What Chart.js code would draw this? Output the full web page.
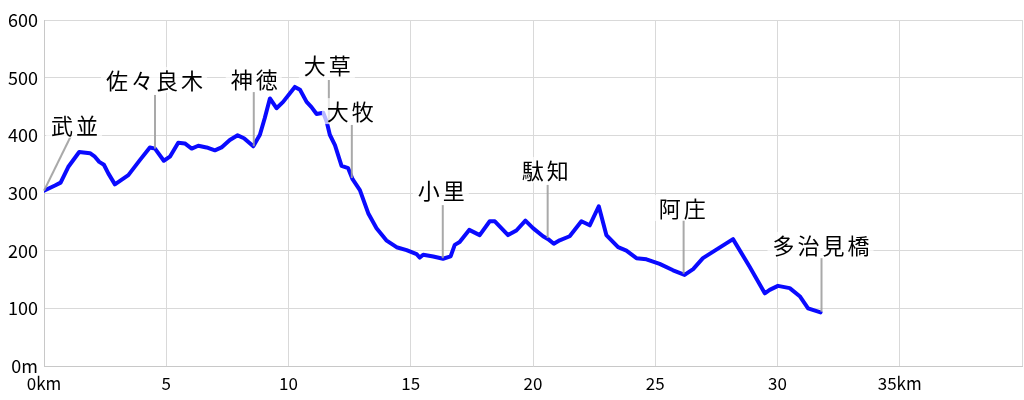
<!DOCTYPE html>
<html><head><meta charset="utf-8">
<script src="https://cdn.jsdelivr.net/npm/chart.js@4/dist/chart.umd.min.js"></script>
<style>html,body{margin:0;padding:0;background:#fff}#wrap{width:1024px;height:400px}</style>
</head><body><div id="wrap"><canvas id="c" width="1024" height="400"></canvas></div>
<script>
// distance (km) and elevation (m) along the route
const distanceKm = [0,0.45,0.68,0.99,1.44,1.88,2.08,2.26,2.45,2.63,2.9,3.45,3.92,4.33,4.54,4.9,5.15,5.49,5.76,6.04,6.31,6.65,6.99,7.26,7.6,7.92,8.18,8.56,8.83,9.03,9.24,9.51,9.78,10.26,10.47,10.74,10.94,11.15,11.42,11.56,11.69,11.9,12.17,12.44,12.62,12.92,13.26,13.6,14.0,14.42,14.83,15.24,15.37,15.51,15.92,16.32,16.63,16.8,17.0,17.39,17.82,18.23,18.44,18.98,19.32,19.69,20.0,20.41,20.62,20.85,21.09,21.5,21.98,22.32,22.69,23.0,23.48,23.82,24.23,24.64,25.18,25.73,26.2,26.55,26.95,28.18,28.86,29.48,29.68,30.02,30.5,30.91,31.25,31.76];
const elevationM = [304,313,318,345,371,369,363,354,349,334,315,331,357,379,377,356,363,387,386,377,382,379,374,379,392,400,395,381,401,430,464,447,458,484,479,458,449,437,439,424,401,383,347,343,324,305,265,239,218,206,201,194,188,193,190,186,190,210,215,236,227,251,251,227,235,252,239,225,220,212,218,225,251,244,277,227,206,200,187,185,177,166,158,168,187,220,172,126,132,139,135,121,100,93];

// tick labels
const xTickText = {0:'0km',5:'5',10:'10',15:'15',20:'20',25:'25',30:'30',35:'35km',40:''};
const yTickText = {0:'0m',100:'100',200:'200',300:'300',400:'400',500:'500',600:'600'};

// place-name annotations
const placeNames  = ['武並','佐々良木','神徳','大草','大牧','小里','駄知','阿庄','多治見橋'];
const leaderFromKm = [0,4.54,8.58,11.65,12.59,16.31,20.6,26.16,31.8];
const leaderFromM  = [304,377,381,421,326,187,222,160,94];
const leaderToKm   = [1.09,4.54,8.58,11.65,12.59,16.31,20.6,26.16,31.8];
const leaderToM    = [398,470,475,496,418,279,314,253,187];
const labelKm      = [1.27,4.54,8.62,11.61,12.55,16.27,20.52,26.12,31.8];
const labelM       = [418,496,499,522,442,305,340,274,210];

const points = distanceKm.map((d,i)=>({x:d,y:elevationM[i]}));

const annotatePlugin = {
  id:'placeLabels',
  afterDatasetsDraw(chart){
    const ctx = chart.ctx, xs = chart.scales.x, ys = chart.scales.y;
    ctx.save();
    ctx.strokeStyle = 'rgba(160,160,160,0.9)';
    ctx.lineWidth = 2;
    for(let i=0;i<placeNames.length;i++){
      ctx.beginPath();
      ctx.moveTo(xs.getPixelForValue(leaderFromKm[i]), ys.getPixelForValue(leaderFromM[i]));
      ctx.lineTo(xs.getPixelForValue(leaderToKm[i]), ys.getPixelForValue(leaderToM[i]));
      ctx.stroke();
    }
    ctx.font = '22px "Noto Sans CJK JP"';
    if ('letterSpacing' in ctx) ctx.letterSpacing = '3px';
    ctx.textBaseline = 'middle';
    ctx.textAlign = 'left';
    for(let i=0;i<placeNames.length;i++){
      const cx = xs.getPixelForValue(labelKm[i]);
      const cy = ys.getPixelForValue(labelM[i]);
      const w = ctx.measureText(placeNames[i]).width;
      ctx.fillStyle = 'rgba(255,255,255,0.7)';
      ctx.fillRect(cx - w/2 - 4, cy - 13, w + 6, 26);
      ctx.fillStyle = '#000';
      ctx.fillText(placeNames[i], cx - w/2 + 1, cy + 1);
    }
    ctx.restore();
  }
};

new Chart(document.getElementById('c'), {
  type:'line',
  data:{datasets:[{data:points,borderColor:'#0a0aff',borderWidth:4,pointRadius:0,tension:0,fill:false,borderJoinStyle:'round',borderCapStyle:'round'}]},
  options:{
    responsive:false,animation:false,devicePixelRatio:1,
    layout:{padding:{top:20,right:2,left:0,bottom:0}},
    plugins:{legend:{display:false},tooltip:{enabled:false},title:{display:false}},
    scales:{
      x:{type:'linear',min:0,max:40,
        afterFit(s){s.height=34;s.paddingRight=0;s.paddingLeft=0;},
        grid:{color:'#d9d9d9',drawTicks:false,lineWidth:1},
        border:{color:'#c8c8c8',width:1},
        ticks:{stepSize:5,padding:7,color:'#000',maxRotation:0,autoSkip:false,
          font:{family:'"Noto Sans CJK JP", "Noto Sans"',size:17},
          callback:(v)=>xTickText[v]!==undefined?xTickText[v]:''}},
      y:{min:0,max:600,
        afterFit(s){s.width=44;},
        grid:{color:'#d9d9d9',drawTicks:false,lineWidth:1},
        border:{color:'#c8c8c8',width:1},
        ticks:{stepSize:100,padding:6,color:'#000',
          font:{family:'"Noto Sans CJK JP", "Noto Sans"',size:18},
          callback:(v)=>yTickText[v]!==undefined?yTickText[v]:''}}
    }
  },
  plugins:[annotatePlugin]
});
</script></body></html>
